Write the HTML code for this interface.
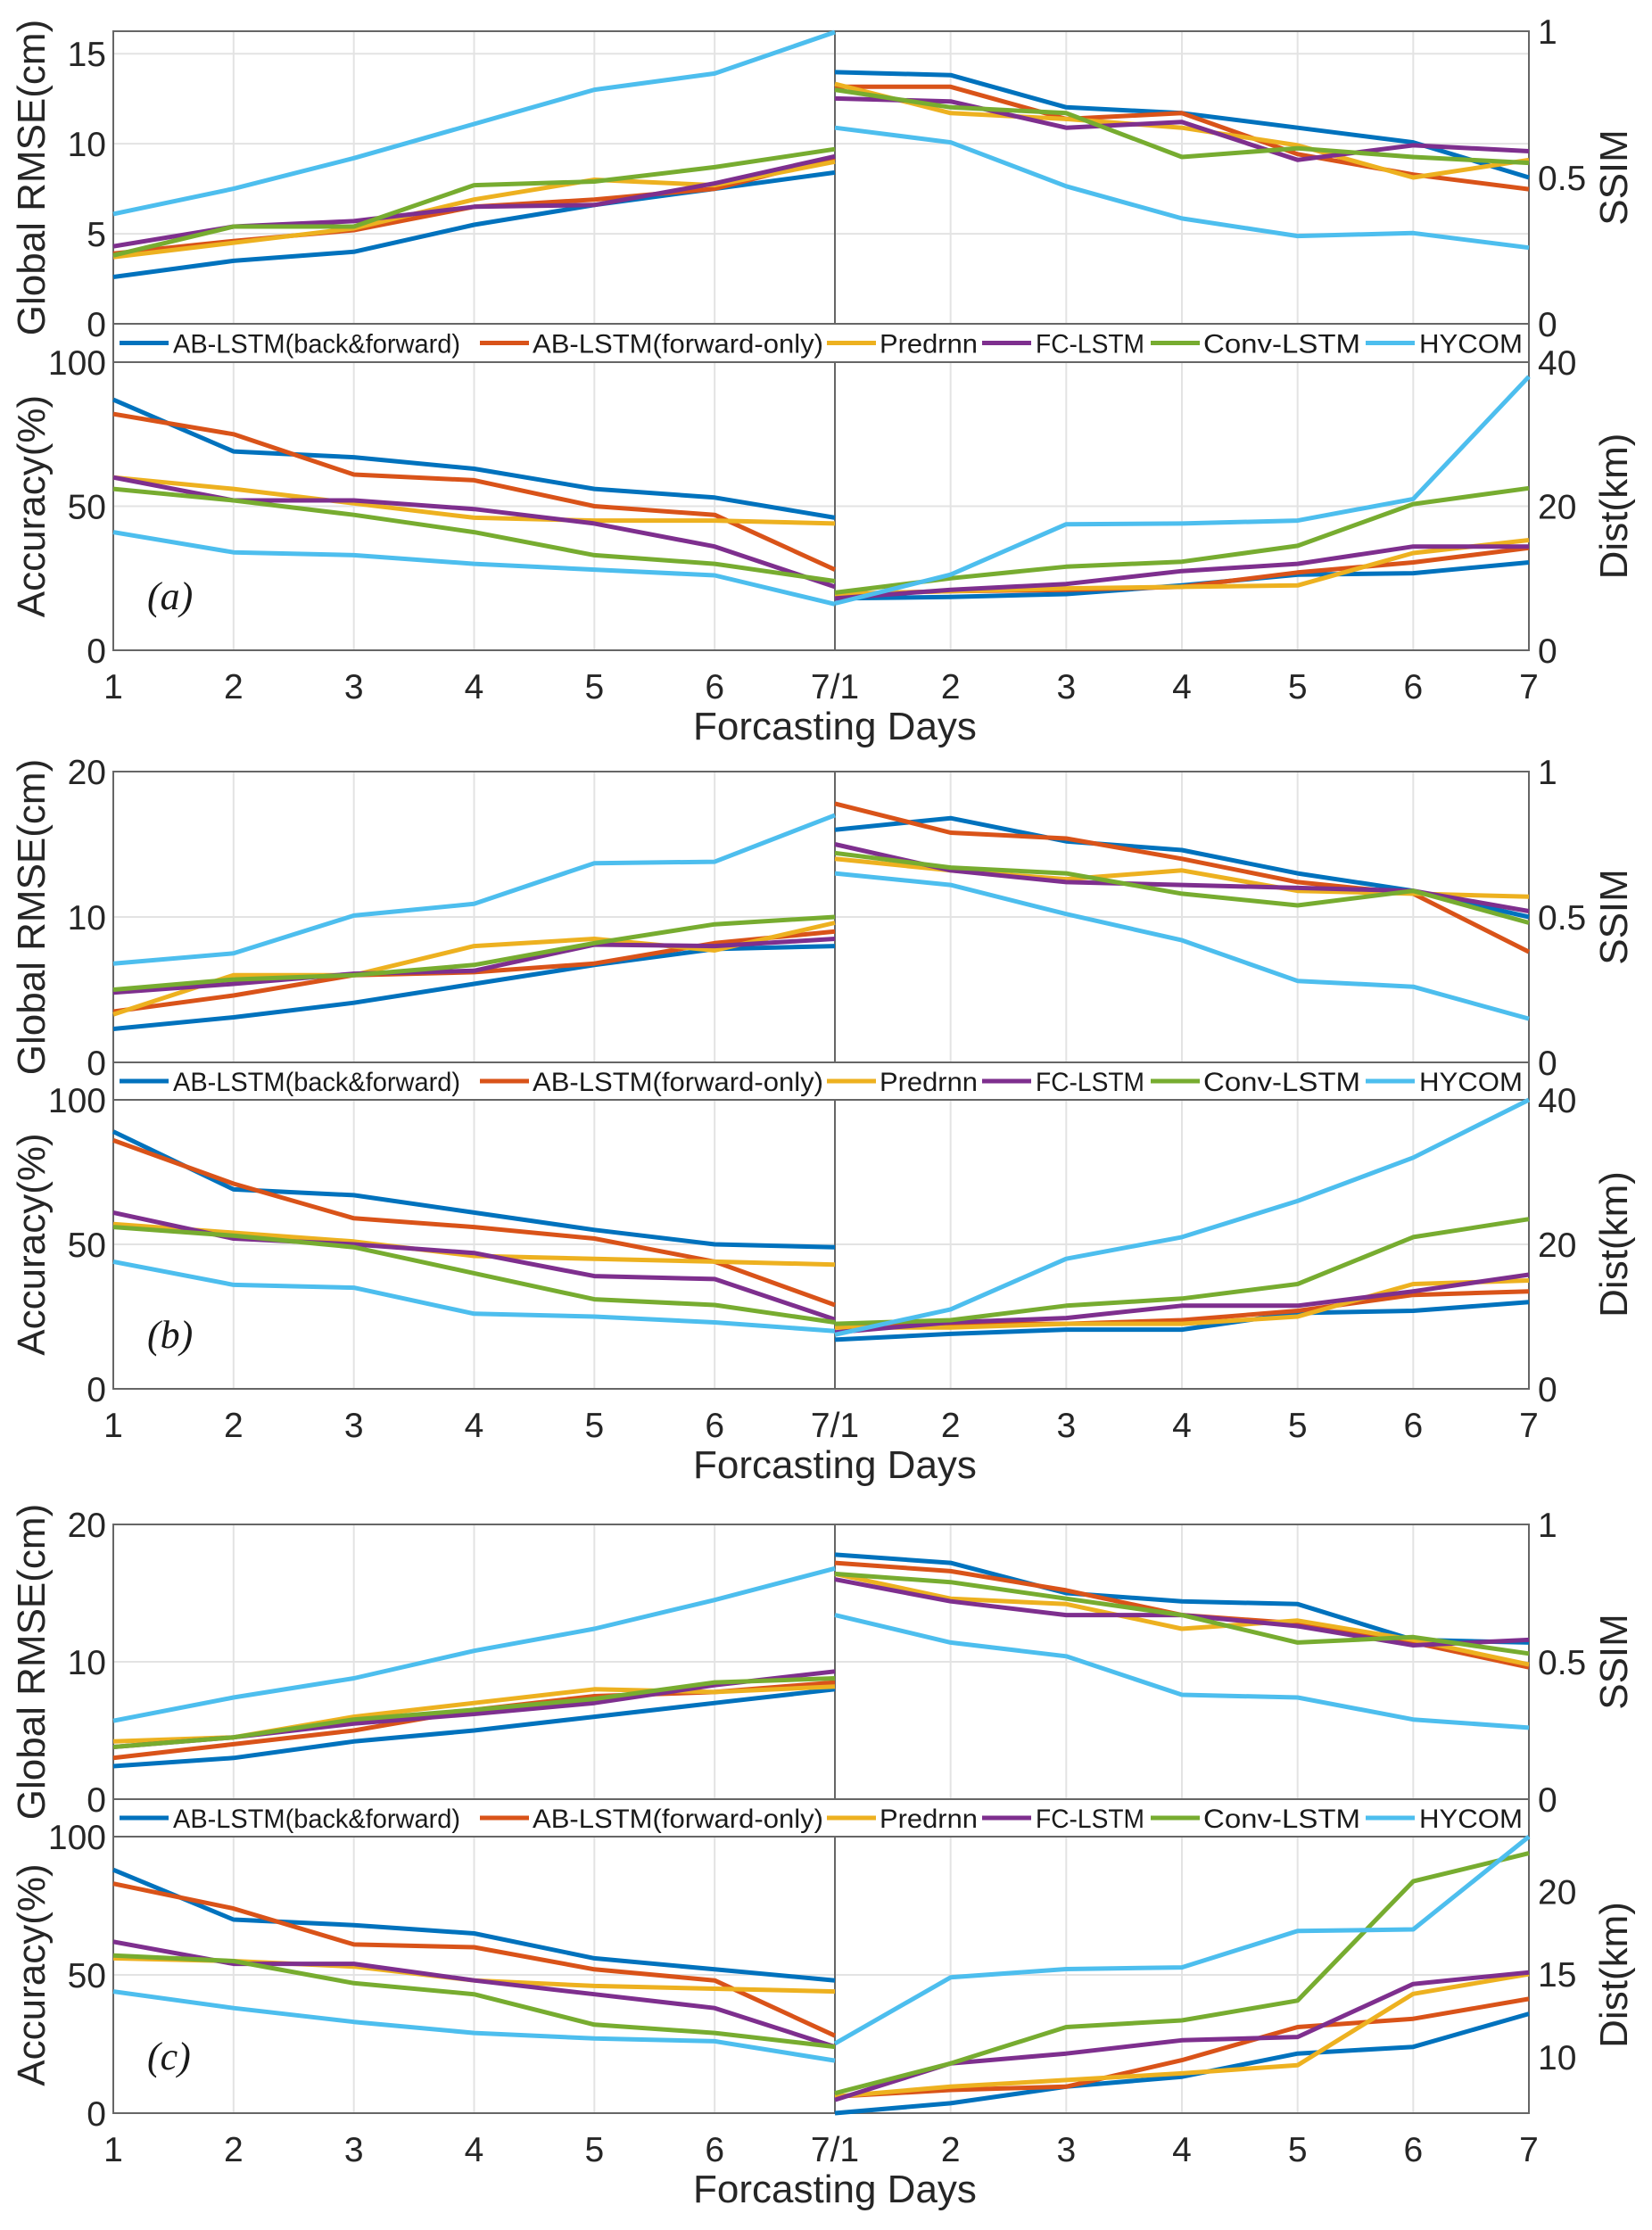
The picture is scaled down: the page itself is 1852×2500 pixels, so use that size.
<!DOCTYPE html>
<html><head><meta charset="utf-8"><style>
html,body{margin:0;padding:0;background:#fff;}
svg{display:block;font-family:"Liberation Sans",Arial,sans-serif;}
</style></head><body>
<svg id="chart" width="1852" height="2500" viewBox="0 0 1852 2500" xmlns="http://www.w3.org/2000/svg"></svg>
<script>
const seriesNames = ["AB-LSTM(back&forward)","AB-LSTM(forward-only)","Predrnn","FC-LSTM","Conv-LSTM","HYCOM"];
const seriesColors = ["#0072BD","#D95319","#EDB120","#7E2F8E","#77AC30","#4DBEEE"];
const leftXTicks = ["1","2","3","4","5","6","7/1"];
const rightXTicks = ["2","3","4","5","6","7"];
const days = [1,2,3,4,5,6,7];

// Panel (a)
const aRmse = [[2.6,3.5,4.0,5.5,6.6,7.5,8.4],[3.9,4.6,5.2,6.5,6.9,7.5,9.2],[3.7,4.5,5.3,6.9,8.0,7.7,9.0],[4.3,5.4,5.7,6.5,6.6,7.8,9.3],[3.8,5.4,5.4,7.7,7.9,8.7,9.7],[6.1,7.5,9.2,11.1,13.0,13.9,16.2]];
const aSsim = [[0.86,0.85,0.74,0.72,0.67,0.62,0.50],[0.81,0.81,0.70,0.72,0.58,0.51,0.46],[0.82,0.72,0.70,0.67,0.61,0.50,0.56],[0.77,0.76,0.67,0.69,0.56,0.61,0.59],[0.80,0.74,0.72,0.57,0.60,0.57,0.55],[0.67,0.62,0.47,0.36,0.30,0.31,0.26]];
const aAcc = [[87,69,67,63,56,53,46],[82,75,61,59,50,47,28],[60,56,51,46,45,45,44],[60,52,52,49,44,36,22],[56,52,47,41,33,30,24],[41,34,33,30,28,26,16]];
const aDist = [[7.2,7.4,7.8,9,10.5,10.7,12.2],[7.8,8.2,8.4,8.8,10.8,12.2,14.2],[7.8,8.2,8.6,8.8,9.0,13.5,15.3],[7.2,8.4,9.2,11,12,14.4,14.4],[8,10,11.6,12.3,14.5,20.3,22.5],[6.5,10.5,17.5,17.6,18,21,38]];
// Panel (b)
const bRmse = [[2.3,3.1,4.1,5.4,6.7,7.8,8.0],[3.5,4.6,6.0,6.2,6.8,8.2,9.0],[3.3,6.0,6.0,8.0,8.5,7.7,9.6],[4.8,5.4,6.1,6.3,8.1,8.0,8.5],[5.0,5.7,6.0,6.7,8.2,9.5,10.0],[6.8,7.5,10.1,10.9,13.7,13.8,17.0]];
const bSsim = [[0.80,0.84,0.76,0.73,0.65,0.59,0.50],[0.89,0.79,0.77,0.70,0.62,0.58,0.38],[0.70,0.66,0.63,0.66,0.59,0.58,0.57],[0.75,0.66,0.62,0.61,0.60,0.59,0.52],[0.72,0.67,0.65,0.58,0.54,0.59,0.48],[0.65,0.61,0.51,0.42,0.28,0.26,0.15]];
const bAcc = [[89,69,67,61,55,50,49],[86,71,59,56,52,44,29],[57,54,51,46,45,44,43],[61,52,50,47,39,38,24],[56,53,49,40,31,29,23],[44,36,35,26,25,23,20]];
const bDist = [[6.8,7.6,8.2,8.2,10.5,10.8,12],[8.5,9.0,9.0,9.5,10.8,13,13.5],[8.5,8.5,9.0,9.0,10,14.5,15],[7.8,9.2,9.8,11.5,11.5,13.5,15.8],[9,9.5,11.5,12.5,14.5,21,23.5],[7.5,11,18,21,26,32,40]];
// Panel (c)
const cRmse = [[2.4,3.0,4.2,5.0,6.0,7.0,8.0],[3.0,4.0,5.0,6.5,7.5,7.8,8.5],[4.2,4.5,6.0,7.0,8.0,7.8,8.2],[3.8,4.5,5.5,6.2,7.0,8.3,9.3],[3.8,4.5,5.8,6.5,7.3,8.5,8.8],[5.7,7.4,8.8,10.8,12.4,14.5,16.8]];
const cSsim = [[0.89,0.86,0.75,0.72,0.71,0.58,0.57],[0.86,0.83,0.76,0.67,0.64,0.57,0.48],[0.82,0.73,0.71,0.62,0.65,0.58,0.49],[0.80,0.72,0.67,0.67,0.63,0.56,0.58],[0.82,0.79,0.73,0.67,0.57,0.59,0.53],[0.67,0.57,0.52,0.38,0.37,0.29,0.26]];
const cAcc = [[88,70,68,65,56,52,48],[83,74,61,60,52,48,28],[56,55,53,48,46,45,44],[62,54,54,48,43,38,24],[57,55,47,43,32,29,24],[44,38,33,29,27,26,19]];
const cDist = [[6.6,7.2,8.2,8.8,10.2,10.6,12.6],[7.6,8,8.2,9.8,11.8,12.3,13.5],[7.6,8.2,8.6,9.0,9.5,13.8,15],[7.4,9.6,10.2,11.0,11.2,14.4,15.1],[7.8,9.6,11.8,12.2,13.4,20.6,22.3],[10.8,14.8,15.3,15.4,17.6,17.7,23.3]];

const rmseTicksA = [0,5,10,15];
const rmseTicksBC = [0,10,20];
const ssimTicks = [0,0.5,1];
const accTicks = [0,50,100];
const distTicksAB = [0,20,40];
const distTicksC = [10,15,20];

const NS = "http://www.w3.org/2000/svg";
const svg = document.getElementById('chart');
const XL0 = 127, XM = 936, XR = 1714;
function xLeft(d){ return XL0 + (d-1)*(XM-XL0)/6; }
function xRight(d){ return XM + (d-1)*(XR-XM)/6; }
function mk(tag, attrs, parent){
  const e = document.createElementNS(NS, tag);
  for (const k in attrs) e.setAttribute(k, attrs[k]);
  (parent||svg).appendChild(e);
  return e;
}
function txt(s, attrs, parent){ const e = mk('text', attrs, parent); e.textContent = s; return e; }

function drawAxes(g, y0, y1, lmin, lmax, lticks, rmin, rmax, rticks, lfmt, rfmt, lname, rname, showX, panel){
  const ly = v => y1 - (v-lmin)/(lmax-lmin)*(y1-y0);
  const ry = v => y1 - (v-rmin)/(rmax-rmin)*(y1-y0);
  for (let i=2;i<=6;i++){
    const gl = mk('line',{x1:xLeft(i),x2:xLeft(i),y1:y0,y2:y1,stroke:'#e3e3e3','stroke-width':2},g);
    
    
    const gr = mk('line',{x1:xRight(i),x2:xRight(i),y1:y0,y2:y1,stroke:'#e3e3e3','stroke-width':2},g);
    
    
  }
  lticks.forEach(t=>{
    const y = ly(t);
    if (y>y0+2 && y<y1-2){
      const gh = mk('line',{x1:XL0,x2:XR,y1:y,y2:y,stroke:'#e3e3e3','stroke-width':2},g);
      
      
    }
    const tl = txt(lfmt(t),{x:XL0-8,y:y+14,'font-size':39,'text-anchor':'end',fill:'#262626'},g);
    
    
  });
  rticks.forEach(t=>{
    const y = ry(t);
    const tr = txt(rfmt(t),{x:XR+10,y:y+14,'font-size':39,'text-anchor':'start',fill:'#262626'},g);
    
    
  });
  const box = mk('rect',{x:XL0,y:y0,width:XR-XL0,height:y1-y0,fill:'none',stroke:'#666','stroke-width':2},g);
  
  
  const mid = mk('line',{x1:XM,x2:XM,y1:y0,y2:y1,stroke:'#666','stroke-width':2},g);
  
  
  return {ly, ry};
}

function drawSeries(g, data, xf, yf, label){
  data.forEach((vals, si)=>{
    const pts = vals.map((v,i)=>xf(days[i]).toFixed(1)+','+yf(v).toFixed(1)).join(' ');
    const p = mk('polyline',{points:pts,fill:'none',stroke:seriesColors[si],'stroke-width':5,'stroke-linejoin':'round'},g);
    
    
  });
}

function drawLegend(g, yTop, yBot){
  const cy = (yTop+yBot)/2;
  const segs = [[134,194,322],[538,597,326],[927,986,110],[1101,1161,122],[1290,1349,176],[1531,1591,116]];
  segs.forEach((s,i)=>{
    const l = mk('line',{x1:s[0],x2:s[0]+55,y1:cy,y2:cy,stroke:seriesColors[i],'stroke-width':5},g);
    
    
    const t = txt(seriesNames[i],{x:s[1],y:cy+11,'font-size':30,fill:'#1a1a1a',textLength:s[2],lengthAdjust:'spacingAndGlyphs'},g);
    
    
  });
}

function panel(name, cfg){
  const g = mk('g',{});
  
  
  const f1 = v => String(v);
  const top = drawAxes(g, cfg.t0, cfg.t1, 0, cfg.rmseMax, cfg.rmseTicks, 0, 1, ssimTicks, f1, f1, 'rmse', 'ssim', false, name+'-top');
  drawSeries(g, cfg.rmse, xLeft, top.ly, 'rmse');
  drawSeries(g, cfg.ssim, xRight, top.ry, 'ssim');
  const lr = mk('rect',{x:XL0,y:cfg.t1,width:XR-XL0,height:cfg.b0-cfg.t1,fill:'#fff',stroke:'#666','stroke-width':2},g);
  
  
  drawLegend(g, cfg.t1, cfg.b0);
  const bot = drawAxes(g, cfg.b0, cfg.b1, 0, 100, accTicks, cfg.dMin, cfg.dMax, cfg.dTicks, f1, f1, 'accuracy', 'dist', true, name+'-bottom');
  drawSeries(g, cfg.acc, xLeft, bot.ly, 'accuracy');
  drawSeries(g, cfg.dist, xRight, bot.ry, 'dist');
  leftXTicks.forEach((t,i)=>{
    const e = txt(t,{x:xLeft(days[i]),y:cfg.b1+54,'font-size':39,'text-anchor':'middle',fill:'#262626'},g);
    
    
  });
  rightXTicks.forEach((t,i)=>{
    const e = txt(t,{x:xRight(days[i+1]),y:cfg.b1+54,'font-size':39,'text-anchor':'middle',fill:'#262626'},g);
    
    
  });
  const xl = txt('Forcasting Days',{x:XM,y:cfg.b1+100,'font-size':44,'text-anchor':'middle',fill:'#262626'},g);
  
  
  const tc = (cfg.t0+cfg.t1)/2, bc = (cfg.b0+cfg.b1)/2;
  const yt1 = txt('Global RMSE(cm)',{x:0,y:0,'font-size':44,'text-anchor':'middle',fill:'#262626',transform:`translate(50,${tc}) rotate(-90)`},g);
  
  
  const yt2 = txt('Accuracy(%)',{x:0,y:0,'font-size':44,'text-anchor':'middle',fill:'#262626',transform:`translate(50,${bc}) rotate(-90)`},g);
  
  
  const yt3 = txt('SSIM',{x:0,y:0,'font-size':44,'text-anchor':'middle',fill:'#262626',transform:`translate(1824,${tc}) rotate(-90)`},g);
  
  
  const yt4 = txt('Dist(km)',{x:0,y:0,'font-size':44,'text-anchor':'middle',fill:'#262626',transform:`translate(1824,${bc}) rotate(-90)`},g);
  
  
  const pl = txt('('+name+')',{x:165,y:cfg.labelY,'font-size':44,'font-style':'italic','font-family':'"Liberation Serif",serif',fill:'#1a1a1a'},g);
  
  
}

panel('a',{t0:35,t1:363,b0:406,b1:729,rmseMax:16.25,rmseTicks:rmseTicksA,dMin:0,dMax:40,dTicks:distTicksAB,rmse:aRmse,ssim:aSsim,acc:aAcc,dist:aDist,labelY:683});
panel('b',{t0:865,t1:1191,b0:1233,b1:1557,rmseMax:20,rmseTicks:rmseTicksBC,dMin:0,dMax:40,dTicks:distTicksAB,rmse:bRmse,ssim:bSsim,acc:bAcc,dist:bDist,labelY:1511});
panel('c',{t0:1709,t1:2017,b0:2059,b1:2369,rmseMax:20,rmseTicks:rmseTicksBC,dMin:6.6,dMax:23.3,dTicks:distTicksC,rmse:cRmse,ssim:cSsim,acc:cAcc,dist:cDist,labelY:2320});
</script>
</body></html>
